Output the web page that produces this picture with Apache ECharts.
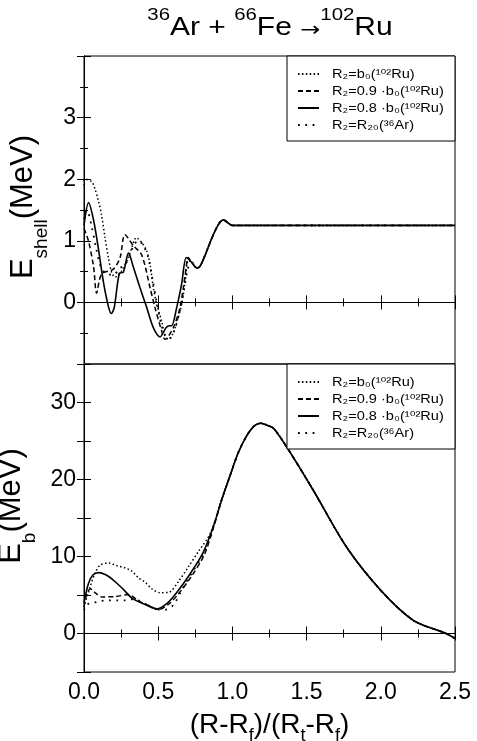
<!DOCTYPE html>
<html>
<head>
<meta charset="utf-8">
<script src="https://cdn.jsdelivr.net/npm/echarts@6/dist/echarts.min.js"></script>
<style>
  html, body { margin: 0; padding: 0; background: #fff; }
  #chart { width: 477px; height: 741px; }
</style>
</head>
<body>
<div id="chart"></div>
<script>
// ---- data: [x, y] with x = (R-Rf)/(Rt-Rf) ----
// top panel, E_shell (MeV)
const shellB0 = [[0, 1.9], [0.007, 2.0], [0.052, 1.96], [0.074, 1.84], [0.097, 1.65], [0.119, 1.41], [0.141, 1.06],
  [0.164, 0.73], [0.186, 0.49], [0.209, 0.41], [0.25, 0.5], [0.3, 0.73], [0.354, 1.05], [0.389, 0.97], [0.422, 0.84],
  [0.445, 0.62], [0.467, 0.24], [0.49, -0.03], [0.523, -0.3], [0.546, -0.54], [0.568, -0.6], [0.602, -0.49],
  [0.635, -0.24], [0.658, -0.03], [0.68, 0.3], [0.703, 0.68]]
const shell09 = [[0, 1.2], [0.03, 1.0], [0.065, 0.57], [0.085, 0.15], [0.119, 0.46], [0.198, 0.54], [0.243, 0.73],
  [0.276, 1.1], [0.333, 0.92], [0.389, 0.77], [0.445, 0.24], [0.478, -0.08], [0.523, -0.46], [0.546, -0.6],
  [0.602, -0.41], [0.647, -0.08], [0.68, 0.41], [0.703, 0.73]]
const shell08 = [[0, 1.25], [0.031, 1.62], [0.065, 1.33], [0.099, 0.84], [0.133, 0.3], [0.166, -0.08], [0.184, -0.18],
  [0.204, -0.08], [0.238, 0.47], [0.265, 0.49], [0.3, 0.8], [0.333, 0.57], [0.377, 0.24], [0.422, -0.08],
  [0.467, -0.41], [0.512, -0.56], [0.553, -0.41], [0.575, -0.38], [0.59, -0.38], [0.625, -0.08], [0.658, 0.3],
  [0.69, 0.73]]
const shellR20 = [[0, 1.35], [0.02, 1.5], [0.05, 1.25], [0.08, 0.9], [0.11, 0.6], [0.14, 0.48], [0.17, 0.45],
  [0.2, 0.45], [0.24, 0.55], [0.28, 0.62], [0.31, 0.78], [0.34, 0.95], [0.37, 1.0], [0.4, 0.92], [0.43, 0.75],
  [0.46, 0.4], [0.49, 0.0], [0.52, -0.35], [0.55, -0.55], [0.58, -0.58], [0.61, -0.45], [0.64, -0.2],
  [0.67, 0.15], [0.7, 0.55]]
const shellTail = [[0.726, 0.65], [0.76, 0.56], [0.78, 0.58], [0.815, 0.76], [0.849, 0.97], [0.883, 1.16],
  [0.916, 1.3], [0.94, 1.34], [0.97, 1.29], [1.0, 1.25], [1.5, 1.25], [2.0, 1.25], [2.5, 1.25]]

// bottom panel, E_b (MeV)
const ebB0 = [[0, 3.4], [0.04, 6.0], [0.076, 7.9], [0.11, 8.9], [0.166, 9.15], [0.222, 8.8], [0.279, 8.5],
  [0.323, 8.1], [0.368, 7.2], [0.413, 6.65], [0.458, 5.8], [0.514, 5.3], [0.571, 5.35], [0.638, 6.8],
  [0.705, 8.7], [0.773, 10.7], [0.851, 13.0]]
const eb09 = [[0, 3.5], [0.02, 5.2], [0.043, 5.8], [0.08, 5.2], [0.121, 4.75], [0.211, 4.8], [0.301, 5.05],
  [0.369, 4.2], [0.44, 3.6], [0.5, 3.1], [0.57, 3.8], [0.63, 5.0], [0.72, 7.3], [0.81, 10.2], [0.87, 13.6]]
const eb08 = [[0, 4.0], [0.03, 6.5], [0.06, 7.6], [0.1, 7.9], [0.166, 7.4], [0.234, 6.3], [0.267, 5.7],
  [0.323, 4.6], [0.413, 3.76], [0.492, 3.2], [0.56, 3.9], [0.62, 5.2], [0.71, 7.6], [0.8, 10.4], [0.87, 13.8]]
const ebR20 = [[0, 3.0], [0.02, 3.76], [0.065, 4.0], [0.11, 4.2], [0.166, 4.3], [0.222, 4.3], [0.279, 4.3],
  [0.323, 4.45], [0.38, 4.2], [0.436, 3.6], [0.503, 3.1], [0.548, 3.1], [0.604, 3.75], [0.66, 5.7],
  [0.728, 7.9], [0.795, 10.0], [0.851, 12.6]]
const ebTail = [[0.93, 17.5], [0.984, 20.5], [1.04, 23.5], [1.1, 25.8], [1.15, 27.0], [1.19, 27.3], [1.24, 27.0],
  [1.28, 26.6], [1.38, 23.8], [1.545, 18.6], [1.77, 11.2], [2.0, 5.6], [2.22, 1.7], [2.44, 0.0], [2.5, -0.65]]

const seriesNames = ['b0', '0.9b0', '0.8b0', 'R20']
const legendText = [
  'R₂=b₀(¹⁰²Ru)',
  'R₂=0.9 ·b₀(¹⁰²Ru)',
  'R₂=0.8 ·b₀(¹⁰²Ru)',
  'R₂=R₂₀(³⁶Ar)'
]
const shellLabels = [0, 1, 2, 3]
const ebLabels = [0, 10, 20, 30]
const xLabels = [0, 0.5, 1, 1.5, 2, 2.5]

const FONT = 'Liberation Sans'
const dashes = {
  'b0': { type: [1.5, 2.4], width: 1.5 },
  '0.9b0': { type: [5, 3], width: 1.5 },
  '0.8b0': { type: 'solid', width: 1.6 },
  'R20': { type: [1.8, 5.5], width: 1.8 }
}

const myChart = echarts.init(document.getElementById('chart'), null, { renderer: 'canvas' })

function makeSeries (name, data, grid) {
  const s = {
    name: name,
    type: 'line',
    xAxisIndex: grid * 2,
    yAxisIndex: grid * 2,
    data: data,
    symbol: 'none',
    smooth: 0.3,
    lineStyle: { color: '#000', type: dashes[name].type, width: dashes[name].width },
    itemStyle: { color: '#000' },
    z: 3
  }
  if (name === '0.8b0') {
    // zero line
    s.markLine = {
      silent: true,
      symbol: 'none',
      label: { show: false },
      lineStyle: { color: '#000', type: 'solid', width: 1 },
      data: [{ yAxis: 0 }]
    }
  }
  return s
}

const tickStyle = {
  axisLine: { show: true, lineStyle: { color: '#000', width: 1 } },
  axisTick: { show: true, inside: true, length: 7, lineStyle: { color: '#000' } },
  splitLine: { show: false }
}

function xAxisOf (grid, pos, labels) {
  return Object.assign({
    type: 'value',
    gridIndex: grid,
    position: pos,
    min: 0,
    max: 2.5,
    interval: 0.5,
    minorTick: { show: true, splitNumber: 2, length: 4, lineStyle: { color: '#000' } },
    axisLabel: {
      show: labels,
      fontFamily: FONT,
      fontSize: 23,
      color: '#000',
      margin: 9,
      formatter: (v) => (xLabels.indexOf(v) >= 0 ? v.toFixed(1) : '')
    }
  }, tickStyle, labels ? {
    name: '(R-R{sub|f})/(R{sub|t}-R{sub|f})',
    nameLocation: 'middle',
    nameGap: 37,
    nameTextStyle: {
      fontFamily: FONT,
      fontSize: 28,
      color: '#000',
      lineHeight: 32,
      rich: {
        sub: { fontFamily: FONT, fontSize: 18, color: '#000', lineHeight: 32, verticalAlign: 'bottom', padding: [0, 0, -4, 0] }
      }
    }
  } : {})
}

function yAxisOf (grid, pos, labels, min, max, interval, shown, name, shift) {
  const ax = Object.assign({
    type: 'value',
    gridIndex: grid,
    position: pos,
    min: min,
    max: max,
    interval: interval,
    axisLabel: {
      show: labels,
      fontFamily: FONT,
      fontSize: 23,
      color: '#000',
      margin: 8,
      formatter: (v) => (shown.indexOf(v) >= 0 ? String(v) : '')
    }
  }, tickStyle)
  if (grid === 0) {
    ax.minorTick = { show: true, splitNumber: 2, length: 4, lineStyle: { color: '#000' } }
  }
  if (name) {
    ax.name = name
    ax.nameLocation = 'middle'
    ax.nameRotate = 90
    ax.nameGap = 42
    ax.nameTextStyle = {
      fontFamily: FONT,
      fontSize: 31,
      color: '#000',
      lineHeight: 38,
      padding: [0, 0, 0, shift],
      rich: {
        sub: { fontFamily: FONT, fontSize: 19, color: '#000', lineHeight: 38, verticalAlign: 'bottom', padding: [0, 0, -9, 0] }
      }
    }
  }
  return ax
}

// legend box + line samples; the label text is drawn by the graphic texts below
function legendAt (top) {
  return {
    data: seriesNames,
    orient: 'vertical',
    right: 22,
    top: top,
    padding: [10, 12, 8, 10],
    itemWidth: 21,
    itemHeight: 10,
    itemGap: 1,
    borderColor: '#000',
    borderWidth: 1,
    backgroundColor: '#fff',
    selectedMode: false,
    itemStyle: { opacity: 0 },
    formatter: () => ' ',
    textStyle: { width: 111, height: 16, lineHeight: 16, padding: [0, 0, 0, 8], color: 'transparent' }
  }
}

function legendLabels (top) {
  return legendText.map((t, i) => ({
    type: 'text',
    x: 332,
    y: top + 18 + i * 17,
    scaleX: 1.12,
    z: 100,
    style: {
      text: t,
      font: '13px "Liberation Sans", "DejaVu Sans", sans-serif',
      fill: '#000',
      align: 'left',
      verticalAlign: 'middle'
    }
  }))
}

const option = {
  animation: false,
  backgroundColor: '#fff',
  graphic: [{
    type: 'text',
    x: 270,
    y: 7,
    scaleX: 1.2,
    style: {
      text: '{sup|36}{m|Ar + }{sup|66}{m|Fe }{a|→}{sup|102}{m|Ru}',
      align: 'center',
      verticalAlign: 'top',
      rich: {
        m: { fontFamily: FONT, fontSize: 25, fill: '#000', lineHeight: 34, verticalAlign: 'bottom' },
        a: { fontFamily: 'DejaVu Sans', fontSize: 20, fill: '#000', lineHeight: 33, verticalAlign: 'bottom' },
        sup: { fontFamily: FONT, fontSize: 17, fill: '#000', lineHeight: 34, verticalAlign: 'top' }
      }
    }
  }].concat(legendLabels(56), legendLabels(364)),
  legend: [legendAt(56), legendAt(364)],
  grid: [
    { left: 84, right: 22, top: 56, height: 308, show: true, borderColor: '#000', borderWidth: 1, outerBoundsMode: 'none', containLabel: false },
    { left: 84, right: 22, top: 364, height: 308, show: true, borderColor: '#000', borderWidth: 1, outerBoundsMode: 'none', containLabel: false }
  ],
  xAxis: [
    xAxisOf(0, 'bottom', false), xAxisOf(0, 'top', false),
    xAxisOf(1, 'bottom', true), xAxisOf(1, 'top', false)
  ],
  yAxis: [
    yAxisOf(0, 'left', true, -1, 4, 1, shellLabels, 'E{sub|shell}(MeV)', 6),
    yAxisOf(0, 'right', false, -1, 4, 1, shellLabels),
    yAxisOf(1, 'left', true, -5, 35, 5, ebLabels, 'E{sub|b}(MeV)', 24),
    yAxisOf(1, 'right', false, -5, 35, 5, ebLabels)
  ],
  series: [
    makeSeries('b0', shellB0.concat(shellTail), 0),
    makeSeries('0.9b0', shell09.concat(shellTail), 0),
    makeSeries('0.8b0', shell08.concat(shellTail), 0),
    makeSeries('R20', shellR20.concat(shellTail), 0),
    makeSeries('b0', ebB0.concat(ebTail), 1),
    makeSeries('0.9b0', eb09.concat(ebTail), 1),
    makeSeries('0.8b0', eb08.concat(ebTail), 1),
    makeSeries('R20', ebR20.concat(ebTail), 1)
  ]
}
myChart.setOption(option)
</script>
</body>
</html>
